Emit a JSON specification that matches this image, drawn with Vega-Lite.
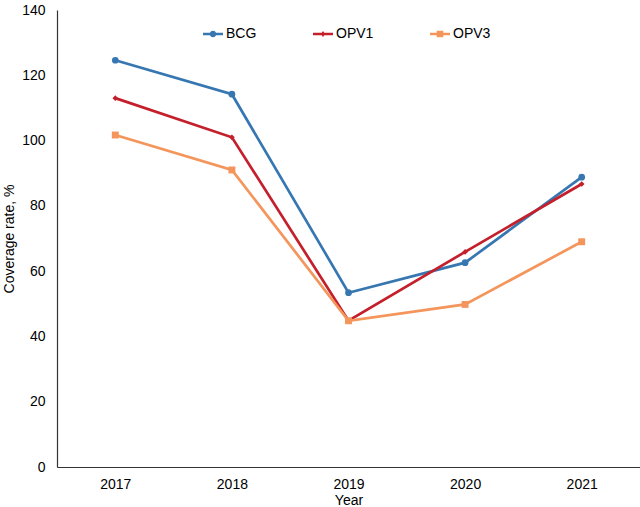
{
  "$schema": "https://vega.github.io/schema/vega-lite/v6.json",
  "autosize": "none",
  "width": 583,
  "height": 457,
  "padding": {"left": 57, "top": 10, "right": 0, "bottom": 40},
  "background": "white",
  "config": {
    "font": "Liberation Sans",
    "view": {"stroke": null},
    "axis": {"grid": false, "ticks": false, "domainColor": "#333333", "domainWidth": 1.2, "labelFontSize": 14, "labelColor": "#000000", "titleFontSize": 14, "titleFontWeight": "normal", "titleColor": "#000000"}
  },
  "data": {"values": [
    {"year": "2017", "series": "BCG", "value": 124.6},
    {"year": "2018", "series": "BCG", "value": 114.2},
    {"year": "2019", "series": "BCG", "value": 53.4},
    {"year": "2020", "series": "BCG", "value": 62.6},
    {"year": "2021", "series": "BCG", "value": 88.8},
    {"year": "2017", "series": "OPV1", "value": 113.0},
    {"year": "2018", "series": "OPV1", "value": 101.0},
    {"year": "2019", "series": "OPV1", "value": 44.8},
    {"year": "2020", "series": "OPV1", "value": 65.9},
    {"year": "2021", "series": "OPV1", "value": 86.7},
    {"year": "2017", "series": "OPV3", "value": 101.7},
    {"year": "2018", "series": "OPV3", "value": 91.0},
    {"year": "2019", "series": "OPV3", "value": 44.8},
    {"year": "2020", "series": "OPV3", "value": 49.8},
    {"year": "2021", "series": "OPV3", "value": 69.0}
  ]},
  "encoding": {
    "x": {"field": "year", "type": "ordinal", "scale": {"type": "point", "padding": 0.5}, "axis": {"title": "Year", "labelAngle": 0, "labelPadding": 10, "titlePadding": 2}},
    "y": {"field": "value", "type": "quantitative", "scale": {"domain": [0, 140]}, "axis": {"title": "Coverage rate, %", "values": [0, 20, 40, 60, 80, 100, 120, 140], "labelPadding": 12, "titlePadding": 5}},
    "color": {"field": "series", "type": "nominal", "scale": {"domain": ["BCG", "OPV1", "OPV3"], "range": ["#3677b2", "#c4202c", "#f4955c"]},
      "legend": {"title": null, "orient": "none", "direction": "horizontal", "gridAlign": "none", "legendX": 146, "legendY": 14, "symbolSize": 400, "labelFontSize": 14, "labelColor": "#000000", "columnPadding": 56, "labelOffset": 3,
        "encode": {"symbols": {"update": {
          "shape": {"signal": "datum.value == 'BCG' ? 'M-1,-0.12H1V0.12H-1Z M-0.33,0A0.33,0.33 0 1,1 0.33,0A0.33,0.33 0 1,1 -0.33,0Z' : datum.value == 'OPV1' ? 'M-1,-0.12H1V0.12H-1Z M0,-0.3L0.22,0L0,0.3L-0.22,0Z' : 'M-1,-0.12H1V0.12H-1Z M-0.33,-0.33H0.33V0.33H-0.33Z'"},
          "size": {"value": 400},
          "fill": {"scale": "color", "field": "value"},
          "stroke": {"value": "transparent"},
          "strokeWidth": {"value": 0},
          "opacity": {"value": 1}}}}}}
  },
  "layer": [
    {"mark": {"type": "line", "strokeWidth": 2.7}},
    {"mark": {"type": "point", "filled": true, "opacity": 1}, "encoding": {
      "shape": {"condition": [{"test": "datum.series == 'BCG'", "value": "circle"}, {"test": "datum.series == 'OPV1'", "value": "diamond"}], "value": "square"},
      "size": {"condition": [{"test": "datum.series == 'BCG'", "value": 45}, {"test": "datum.series == 'OPV1'", "value": 32}], "value": 48}
    }}
  ]
}
